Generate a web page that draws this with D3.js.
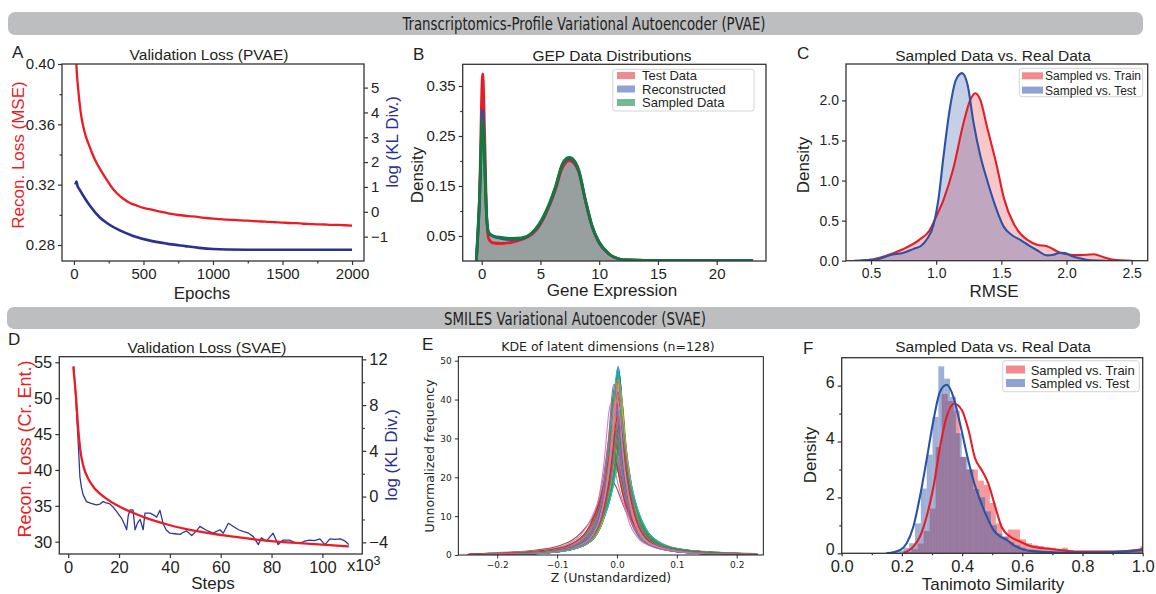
<!DOCTYPE html>
<html>
<head>
<meta charset="utf-8" />
<script src="https://d3js.org/d3.v7.min.js"></script>
<style>
    body { margin: 0; background: #fff; }
    svg { font-family: "Liberation Sans", Arial, sans-serif; }
    .frame { fill: none; stroke: #333; stroke-width: 1.3px; }
    .axis path { display: none; }
    .axis line { stroke: #333; stroke-width: 1.2px; }
    .axis text { fill: #231f20; font-family: "Liberation Sans", Arial, sans-serif; }
    .mpl line { stroke: #000; stroke-width: 0.8px; }
    .mpl text { font-family: "DejaVu Sans", sans-serif; }
</style>
</head>
<body>
<svg id="fig" width="1156" height="594"></svg>
<script>
// ---------------- data ----------------
// A: PVAE validation loss
var aReconEpoch = [12,20,30,43,55,67,85,103,130,163,200,235,270,307,350,403,450,499,550,600,650,700,750,800,850,900,950,1000,1050,1100,1150,1200,1250,1300,1350,1400,1450,1500,1550,1600,1650,1700,1750,1800,1850,1900,1950,2000];
var aReconLoss = [0.410,0.395,0.384,0.372,0.364,0.3585,0.352,0.3476,0.341,0.3343,0.3285,0.3233,0.3185,0.3145,0.3110,0.3079,0.3062,0.3046,0.3036,0.3025,0.3016,0.3006,0.2999,0.2994,0.2990,0.2985,0.2979,0.2975,0.2972,0.2968,0.2966,0.2963,0.2961,0.2958,0.2956,0.2953,0.2951,0.2949,0.2946,0.2945,0.2941,0.2939,0.2937,0.2936,0.2933,0.2933,0.2931,0.2929];
var aKlEpoch = [10,18,25,40,67,115,186,250,330,426,540,666,800,900,1000,1100,1300,1600,2000];
var aKl = [1.10,1.22,1.05,0.90,0.645,0.24,-0.23,-0.50,-0.75,-0.97,-1.15,-1.28,-1.38,-1.45,-1.50,-1.52,-1.53,-1.53,-1.53];

// B: GEP distributions
var bGrid = [-0.46,-0.2,0.083,0.25,0.42,0.6,1.0,1.7,2.5,3.4,4.2,4.85,5.7,6.27,6.84,7.2,7.46,7.8,8.26,8.83,9.4,9.97,10.8,11.7,12.5,15,18,23.1];
var bTest = [0,0.12,0.374,0.25,0.09,0.044,0.036,0.035,0.037,0.043,0.052,0.068,0.107,0.142,0.185,0.198,0.201,0.197,0.178,0.12,0.068,0.037,0.014,0.004,0.002,0.001,0.0005,0.0003];
var bRecon = [0,0.11,0.302,0.2,0.085,0.055,0.049,0.045,0.043,0.045,0.054,0.071,0.11,0.146,0.191,0.203,0.205,0.201,0.18,0.121,0.069,0.038,0.015,0.004,0.002,0.001,0.001,0.0005];
var bSampled = [0,0.12,0.282,0.19,0.089,0.057,0.05,0.047,0.045,0.046,0.055,0.073,0.112,0.148,0.193,0.205,0.207,0.203,0.182,0.122,0.07,0.039,0.015,0.004,0.002,0.001,0.001,0.0005];
var bLabels = ["Test Data", "Reconstructed", "Sampled Data"];

// C: RMSE densities
var cTrainX = [0.42,0.49,0.61,0.74,0.87,0.95,1.0,1.056,1.13,1.21,1.26,1.3,1.34,1.39,1.467,1.518,1.595,1.65,1.7,1.774,1.851,1.95,2.03,2.1,2.21,2.29,2.36,2.5];
var cTrainY = [0,0.01,0.06,0.14,0.26,0.38,0.55,0.76,1.14,1.72,2.0,2.09,2.0,1.67,1.17,0.79,0.46,0.33,0.26,0.2,0.18,0.1,0.075,0.07,0.08,0.04,0.01,0];
var cTestX = [0.37,0.5,0.55,0.65,0.75,0.83,0.88,0.93,0.98,1.02,1.056,1.108,1.15,1.198,1.24,1.287,1.34,1.39,1.45,1.518,1.58,1.646,1.71,1.774,1.851,1.9,1.953,1.99,2.03,2.1,2.185,2.3];
var cTestY = [0,0.01,0.02,0.07,0.1,0.15,0.18,0.27,0.45,0.8,1.3,1.93,2.25,2.34,2.2,1.72,1.3,1.01,0.7,0.425,0.32,0.26,0.19,0.13,0.066,0.075,0.1,0.095,0.066,0.03,0.004,0];
var cLabels = ["Sampled vs. Train", "Sampled vs. Test"];

// D: SVAE validation loss (steps in thousands)
var dReconStep = [2,3,4,5,6,8,10,12.5,15,19,25,30,39,50,65,78,91,110.4];
var dReconLoss = [54.4,50.5,45.5,42.2,40.5,38.7,37.6,36.7,36.0,35.1,34.1,33.4,32.4,31.5,30.7,30.15,29.8,29.35];
var dKlStep = [2.2,3,4,4.6,5.2,5.9,7.2,9,11.1,12.5,13.7,15,16.4,18,19,21,22.3,23,23.6,24.3,25.5,26.3,27.3,28.3,29.5,30.2,32.2,33.5,34.8,36.1,37.4,38.5,40,42,44,45.5,46.6,48.6,50.5,51.8,54,57,59.7,61,63,65,67,69,71,72.8,74.8,76,78,80.6,82.6,84.5,87,89,91,93,95,97,99,101,103,105,107,109,110.4];
var dKl = [11.4,8.5,4.5,1.75,0.8,0.15,-0.44,-0.6,-0.73,-0.65,-0.44,-0.55,-0.64,-1.0,-1.3,-1.9,-2.5,-2.9,-1.7,-1.16,-1.16,-2.9,-2.3,-2.0,-2.9,-1.45,-1.45,-1.6,-1.8,-1.2,-2.4,-2.9,-3.2,-3.25,-3.3,-3.1,-3.0,-3.4,-3.0,-2.6,-2.9,-3.2,-2.9,-3.2,-2.33,-2.62,-2.9,-3.06,-3.2,-3.5,-4.2,-3.6,-3.9,-3.2,-4.2,-3.8,-3.8,-4.0,-4.1,-3.9,-3.8,-3.85,-3.7,-4.2,-3.7,-3.75,-3.7,-3.9,-4.2];

// E: KDE of 128 latent dimensions -- read peak height and centre of each, plus one shared profile shape
var ePeak = [48.5,42,36,30,44,27,39,33,47,25,
    40,35,29,45,31,38,22,41,34,28,
    46,37,32,26,43,30,39,24,36,41,
    33,28,44,35,30,19,38,27,42,31,
    48,34,29,37,25,40,32,45,28,36,
    33,41,26,39,30,43,35,23,38,31,
    47,29,36,42,27,34,40,32,44,30,
    37,25,41,33,28,39,35,46,31,38,
    27,43,34,30,40,36,24,42,32,37,
    29,45,33,39,26,41,35,31,44,28,
    38,34,47,30,36,42,27,33,40,29,
    37,45,32,26,39,35,43,31,38,48,
    34,41,29,36,44,33,40,37];
var eShift = [0.002,-0.004,0.006,-0.008,0.001,0.004,-0.002,0.008,0.003,-0.006,
    -0.001,0.005,-0.009,0.002,0.007,-0.003,0.004,-0.005,0.000,0.009,
    0.003,-0.007,0.001,0.006,-0.002,0.004,-0.010,0.002,0.005,-0.004,
    0.000,0.007,-0.003,0.003,-0.006,-0.010,0.001,0.008,-0.001,0.004,
    0.002,-0.005,0.006,-0.002,0.003,0.000,-0.008,0.004,0.007,-0.003,
    0.001,0.005,-0.006,0.002,0.009,-0.001,0.003,-0.004,0.006,0.000,
    0.003,-0.007,0.002,0.005,-0.002,0.004,0.001,-0.009,0.003,0.007,
    -0.003,0.002,0.006,-0.005,0.001,0.004,-0.001,0.002,0.008,-0.004,
    0.005,0.000,-0.006,0.003,0.001,0.006,-0.011,0.002,0.004,-0.002,
    0.007,0.001,-0.004,0.003,0.005,-0.001,0.002,-0.007,0.004,0.009,
    0.000,0.003,0.001,-0.005,0.006,0.002,-0.003,0.004,0.000,0.007,
    -0.002,0.003,0.005,-0.008,0.001,0.004,0.002,-0.004,0.006,0.001,
    0.003,-0.001,0.007,0.002,-0.005,0.004,0.000,0.005];
var eTplU = [0,0.25,0.5,0.75,1,1.5,2,2.5,3,4,5,6,8,10,14,20];
var eTplV = [1,0.93,0.76,0.6,0.48,0.31,0.2,0.14,0.1,0.062,0.042,0.03,0.016,0.009,0.004,0.001];
var eArea = 0.62; // peak * half-width, roughly constant across dimensions

// F: Tanimoto similarity
var fTrainBinStart = 0.2123, fTrainBinW = 0.02;
var fTrainHist = [0.05,0.15,0.35,0.8,1.6,3.8,5.7,5.45,5.1,3.45,3.0,3.0,2.6,2.45,1.8,1.07,0.6,0.85,0.85,0.5,0.36,0.3,0.26,0.22,0.2,0.15,0.2,0.1,0.06,0.05,0.05,0.04,0.04,0.05,0.05,0.04,0.05,0.08,0.15,0.26];
var fTestBinStart = 0.1465, fTestBinW = 0.0194;
var fTestHist = [0.05,0.05,0.1,0.2,0.36,1.07,2.32,3.53,4.88,6.69,6.25,5.6,4.3,3.45,3.0,2.3,2.0,1.5,1.0,0.7,0.6,0.4,0.3,0.2,0.12,0.1,0.08,0.06,0.05,0.05,0.04,0.04,0.03,0.03,0.04,0.04,0.05,0.05,0.06,0.08,0.1,0.1,0.1,0.12];
var fTrainKdeX = [0.205,0.238,0.26,0.282,0.305,0.327,0.349,0.374,0.399,0.421,0.443,0.465,0.487,0.51,0.531,0.559,0.592,0.626,0.67,0.725,0.78,0.87,0.936,1.0];
var fTrainKdeY = [0.02,0.24,0.6,1.31,2.39,3.82,4.9,5.35,5.13,4.42,3.4,2.98,2.5,1.67,0.95,0.6,0.42,0.26,0.18,0.12,0.06,0.06,0.07,0.15];
var fTestKdeX = [0.15,0.194,0.216,0.238,0.26,0.282,0.305,0.327,0.349,0.371,0.393,0.415,0.437,0.46,0.482,0.504,0.526,0.548,0.57,0.603,0.648,0.7,0.76,0.87,0.95,1.0];
var fTestKdeY = [0,0.12,0.36,0.95,2.03,3.34,4.77,5.79,6.03,5.6,4.65,3.58,2.63,1.9,1.31,0.84,0.6,0.48,0.3,0.14,0.07,0.04,0.03,0.04,0.07,0.12];

// ---------------- drawing ----------------
var svg = d3.select("#fig");
var defs = svg.append("defs");
var RED = "#ed1c24", NAVY = "#2b3190", SRED = "#e41e26", SBLUE = "#2a52a5", SGREEN = "#127a3a";
var MPL = "'DejaVu Sans', sans-serif";
var NARROW = "'Liberation Sans Narrow', 'DejaVu Sans Condensed', Arial, sans-serif";

function txt(x, y, s, size, opt) {
    opt = opt || {};
    var t = svg.append("text").attr("x", x).attr("y", y).text(s)
        .style("font-size", size + "px")
        .attr("fill", opt.fill || "#231f20")
        .attr("text-anchor", opt.anchor || "middle");
    if (opt.fam) t.style("font-family", opt.fam);
    return t;
}
function vtxt(cx, cy, s, size, fill, fam) {
    var t = svg.append("text").attr("transform", "translate(" + cx + "," + cy + ") rotate(-90)")
        .attr("text-anchor", "middle").attr("dy", "0.35em").text(s)
        .style("font-size", size + "px").attr("fill", fill || "#231f20");
    if (fam) t.style("font-family", fam);
    return t;
}
function drawAxis(orient, scale, at, ticks, fmt, size, len, cls) {
    var gen = orient === "bottom" ? d3.axisBottom : (orient === "left" ? d3.axisLeft : d3.axisRight);
    var a = gen(scale).tickValues(ticks).tickSize(len).tickPadding(3)
        .tickFormat(fmt ? d3.format(fmt) : function() { return ""; });
    var g = svg.append("g").attr("class", "axis " + (cls || ""))
        .attr("transform", orient === "bottom" ? "translate(0," + at + ")" : "translate(" + at + ",0)")
        .call(a);
    g.selectAll("text").style("font-size", size + "px");
    return g;
}
function frame(b, cls) {
    svg.append("rect").attr("class", "frame").attr("x", b.l).attr("y", b.t)
        .attr("width", b.r - b.l).attr("height", b.b - b.t)
        .style("stroke", cls === "mpl" ? "#000" : null).style("stroke-width", cls === "mpl" ? "0.9px" : null);
}
function clip(id, b) {
    defs.append("clipPath").attr("id", id).append("rect")
        .attr("x", b.l).attr("y", b.t).attr("width", b.r - b.l).attr("height", b.b - b.t);
    return svg.append("g").attr("clip-path", "url(#" + id + ")");
}
function legend(bx, items, size) {
    svg.append("rect").attr("x", bx.x).attr("y", bx.y).attr("width", bx.w).attr("height", bx.h)
        .attr("rx", 2.5).attr("fill", "#fff").attr("fill-opacity", 0.85)
        .attr("stroke", "#d4d4d4").attr("stroke-width", 1);
    items.forEach(function(it, i) {
        var base = bx.base0 + i * bx.gap;
        svg.append("rect").attr("x", bx.sx).attr("y", base - bx.sh - 1)
            .attr("width", bx.sw).attr("height", bx.sh).attr("fill", it.color);
        txt(bx.tx, base, it.label, size, {anchor: "start"});
    });
}
function pairs(xs, ys) { return d3.zip(xs, ys); }

// header bars
svg.append("rect").attr("x", 8).attr("y", 12).attr("width", 1135).attr("height", 23).attr("rx", 7).attr("fill", "#bcbec0");
svg.append("rect").attr("x", 7).attr("y", 307).attr("width", 1133).attr("height", 22).attr("rx", 7).attr("fill", "#bcbec0");
txt(584, 30, "Transcriptomics-Profile Variational Autoencoder (PVAE)", 18, {fam: NARROW})
    .attr("textLength", 363).attr("lengthAdjust", "spacingAndGlyphs");
txt(575, 324.5, "SMILES Variational Autoencoder (SVAE)", 18, {fam: NARROW})
    .attr("textLength", 262).attr("lengthAdjust", "spacingAndGlyphs");

// ---------- A ----------
(function() {
    var b = {l: 62, r: 364, t: 64, b: 261};
    var x = d3.scaleLinear().domain([-86, 2086]).range([b.l, b.r]);
    var yl = d3.scaleLinear().domain([0.2694, 0.40]).range([b.b, b.t]);
    var yr = d3.scaleLinear().domain([-1.98, 5.95]).range([b.b, b.t]);
    var g = clip("clipA", b);
    g.append("path").datum(pairs(aReconEpoch, aReconLoss))
        .attr("d", d3.line().x(function(d) { return x(d[0]); }).y(function(d) { return yl(d[1]); }).curve(d3.curveMonotoneX))
        .attr("fill", "none").attr("stroke", RED).attr("stroke-width", 2.3);
    g.append("path").datum(pairs(aKlEpoch, aKl))
        .attr("d", d3.line().x(function(d) { return x(d[0]); }).y(function(d) { return yr(d[1]); }).curve(d3.curveMonotoneX))
        .attr("fill", "none").attr("stroke", NAVY).attr("stroke-width", 2.6);
    frame(b);
    drawAxis("left", yl, b.l, [0.28, 0.32, 0.36, 0.40], ".2f", 15, 4);
    drawAxis("left", yl, b.l, [0.30, 0.34, 0.38], null, 15, 2.5);
    drawAxis("right", yr, b.r, [-1, 0, 1, 2, 3, 4, 5], "d", 15, 4);
    drawAxis("bottom", x, b.b, [0, 500, 1000, 1500, 2000], "d", 15, 4);
    drawAxis("bottom", x, b.b, [250, 750, 1250, 1750], null, 15, 2.5);
    txt(12, 58, "A", 17, {anchor: "start"});
    txt(209, 60, "Validation Loss (PVAE)", 15.5);
    txt(202, 299, "Epochs", 17);
    vtxt(18, 155, "Recon. Loss (MSE)", 17, RED);
    vtxt(392, 142, "log (KL Div.)", 17, NAVY);
})();

// ---------- B ----------
(function() {
    var b = {l: 462.7, r: 766, t: 64.3, b: 261};
    var x = d3.scaleLinear().domain([-1.62, 24.2]).range([b.l, b.r]);
    var y = d3.scaleLinear().domain([0, 0.3934]).range([b.b, b.t]);
    var g = clip("clipB", b);
    var series = [{v: bTest, c: SRED}, {v: bRecon, c: SBLUE}, {v: bSampled, c: SGREEN}];
    var area = d3.area().x(function(d) { return x(d[0]); }).y0(y(0)).y1(function(d) { return y(d[1]); }).curve(d3.curveMonotoneX);
    var line = d3.line().x(function(d) { return x(d[0]); }).y(function(d) { return y(d[1]); }).curve(d3.curveMonotoneX);
    series.forEach(function(s) {
        g.append("path").datum(pairs(bGrid, s.v)).attr("d", area).attr("fill", "#8e9795").attr("fill-opacity", 0.55);
    });
    series.forEach(function(s) {
        g.append("path").datum(pairs(bGrid, s.v)).attr("d", line).attr("fill", "none")
            .attr("stroke", s.c).attr("stroke-width", 2.8).attr("stroke-linejoin", "round");
    });
    frame(b);
    drawAxis("left", y, b.l, [0.05, 0.15, 0.25, 0.35], ".2f", 15, 4);
    drawAxis("left", y, b.l, [0.10, 0.20, 0.30], null, 15, 2.5);
    drawAxis("bottom", x, b.b, [0, 5, 10, 15, 20], "d", 15, 4);
    legend({x: 612.7, y: 69.3, w: 141.3, h: 41.7, sx: 617, sw: 18, sh: 7, tx: 642, base0: 80, gap: 13.5},
        [{label: bLabels[0], color: "#f28a90"}, {label: bLabels[1], color: "#8ea3d3"}, {label: bLabels[2], color: "#72b996"}], 13);
    txt(413, 60, "B", 17, {anchor: "start"});
    txt(612, 61, "GEP Data Distributions", 15.5);
    txt(612, 296, "Gene Expression", 17);
    vtxt(417, 175, "Density", 17);
})();

// ---------- C ----------
(function() {
    var b = {l: 846, r: 1147.7, t: 64, b: 260.7};
    var x = d3.scaleLinear().domain([0.308, 2.623]).range([b.l, b.r]);
    var y = d3.scaleLinear().domain([0, 2.454]).range([b.b, b.t]);
    var g = clip("clipC", b);
    var area = d3.area().x(function(d) { return x(d[0]); }).y0(y(0)).y1(function(d) { return y(d[1]); }).curve(d3.curveMonotoneX);
    var line = d3.line().x(function(d) { return x(d[0]); }).y(function(d) { return y(d[1]); }).curve(d3.curveMonotoneX);
    var tr = pairs(cTrainX, cTrainY), te = pairs(cTestX, cTestY);
    g.append("path").datum(tr).attr("d", area).attr("fill", SRED).attr("fill-opacity", 0.25);
    g.append("path").datum(te).attr("d", area).attr("fill", SBLUE).attr("fill-opacity", 0.27);
    g.append("path").datum(tr).attr("d", line).attr("fill", "none").attr("stroke", SRED).attr("stroke-width", 2.1);
    g.append("path").datum(te).attr("d", line).attr("fill", "none").attr("stroke", SBLUE).attr("stroke-width", 2.1);
    frame(b);
    drawAxis("left", y, b.l, [0, 0.5, 1.0, 1.5, 2.0], ".1f", 14, 4);
    drawAxis("bottom", x, b.b, [0.5, 1.0, 1.5, 2.0, 2.5], ".1f", 14, 4);
    legend({x: 1019.3, y: 68.3, w: 123.4, h: 28.4, sx: 1022, sw: 21, sh: 7, tx: 1045, base0: 80.3, gap: 14.3},
        [{label: cLabels[0], color: "#f28a90"}, {label: cLabels[1], color: "#8ea3d3"}], 12);
    txt(797, 59, "C", 17, {anchor: "start"});
    txt(993, 60.5, "Sampled Data vs. Real Data", 15.5);
    txt(994, 297, "RMSE", 17);
    vtxt(803, 165, "Density", 17);
})();

// ---------- D ----------
(function() {
    var b = {l: 59.3, r: 362.3, t: 356.7, b: 554};
    var x = d3.scaleLinear().domain([-3.5, 115.7]).range([b.l, b.r]);
    var yl = d3.scaleLinear().domain([28.29, 55.78]).range([b.b, b.t]);
    var yr = d3.scaleLinear().domain([-5.02, 12.23]).range([b.b, b.t]);
    var g = clip("clipD", b);
    g.append("path").datum(pairs(dKlStep, dKl))
        .attr("d", d3.line().x(function(d) { return x(d[0]); }).y(function(d) { return yr(d[1]); }))
        .attr("fill", "none").attr("stroke", "#2b3a9a").attr("stroke-width", 1.3).attr("stroke-linejoin", "round");
    g.append("path").datum(pairs(dReconStep, dReconLoss))
        .attr("d", d3.line().x(function(d) { return x(d[0]); }).y(function(d) { return yl(d[1]); }).curve(d3.curveMonotoneX))
        .attr("fill", "none").attr("stroke", RED).attr("stroke-width", 2.3);
    frame(b);
    drawAxis("left", yl, b.l, [30, 35, 40, 45, 50, 55], "d", 16.5, 4);
    drawAxis("right", yr, b.r, [-4, 0, 4, 8, 12], "d", 16.5, 4);
    drawAxis("right", yr, b.r, [-2, 2, 6, 10], null, 16.5, 2.5);
    drawAxis("bottom", x, b.b, [0, 20, 40, 60, 80, 100], "d", 16.5, 4);
    var sc = svg.append("text").attr("x", 347).attr("y", 571).style("font-size", "16.5px").attr("fill", "#231f20");
    sc.append("tspan").text("x10");
    sc.append("tspan").attr("dy", -6).style("font-size", "12.5px").text("3");
    txt(8, 345, "D", 17, {anchor: "start"});
    txt(207, 353, "Validation Loss (SVAE)", 15.5);
    txt(213, 589, "Steps", 17);
    vtxt(25, 449, "Recon. Loss (Cr. Ent.)", 18, RED);
    vtxt(391, 455, "log (KL Div.)", 17, NAVY);
})();

// ---------- E ----------
(function() {
    var b = {l: 458.3, r: 763.3, t: 356.7, b: 555};
    var x = d3.scaleLinear().domain([-0.265, 0.2444]).range([b.l, b.r]);
    var y = d3.scaleLinear().domain([0, 51.03]).range([b.b, b.t]);
    var g = clip("clipE", b);
    var line = d3.line().x(function(d) { return x(d[0]); }).y(function(d) { return y(d[1]); }).curve(d3.curveMonotoneX);
    ePeak.forEach(function(pk, i) {
        var w = eArea / pk, c = eShift[i];
        var pts = [];
        for (var k = eTplU.length - 1; k > 0; k--) pts.push([c - eTplU[k] * w, pk * eTplV[k]]);
        for (k = 0; k < eTplU.length; k++) pts.push([c + eTplU[k] * w, pk * eTplV[k]]);
        pts = pts.filter(function(p) { return p[0] > -0.25 && p[0] < 0.235; });
        pts.unshift([-0.25, 0]);
        pts.push([0.235, 0]);
        g.append("path").datum(pts).attr("d", line).attr("fill", "none")
            .attr("stroke", d3.schemeCategory10[i % 10]).attr("stroke-width", 1.1);
    });
    frame(b, "mpl");
    drawAxis("left", y, b.l, [0, 10, 20, 30, 40, 50], "d", 9, 3.5, "mpl");
    drawAxis("bottom", x, b.b, [-0.2, -0.1, 0, 0.1, 0.2], ".1f", 9, 3.5, "mpl");
    txt(422, 350, "E", 17, {anchor: "start"});
    txt(608, 351, "KDE of latent dimensions (n=128)", 12.5, {fam: MPL});
    txt(611, 582, "Z (Unstandardized)", 12.5, {fam: MPL});
    vtxt(430, 456, "Unnormalized frequency", 12.5, "#231f20", MPL);
})();

// ---------- F ----------
(function() {
    var b = {l: 841.7, r: 1142.7, t: 357.7, b: 553.3};
    var x = d3.scaleLinear().domain([0, 1]).range([b.l, b.r]);
    var y = d3.scaleLinear().domain([0, 7]).range([b.b, b.t]);
    var g = clip("clipF", b);
    g.selectAll("rect.trainbar").data(fTrainHist).enter().append("rect").attr("class", "trainbar")
        .attr("x", function(d, i) { return x(fTrainBinStart + i * fTrainBinW); })
        .attr("width", x(fTrainBinW) - x(0))
        .attr("y", function(d) { return y(d); })
        .attr("height", function(d) { return y(0) - y(d); })
        .attr("fill", SRED).attr("fill-opacity", 0.45);
    g.selectAll("rect.testbar").data(fTestHist).enter().append("rect").attr("class", "testbar")
        .attr("x", function(d, i) { return x(fTestBinStart + i * fTestBinW); })
        .attr("width", x(fTestBinW) - x(0))
        .attr("y", function(d) { return y(d); })
        .attr("height", function(d) { return y(0) - y(d); })
        .attr("fill", SBLUE).attr("fill-opacity", 0.45);
    var line = d3.line().x(function(d) { return x(d[0]); }).y(function(d) { return y(d[1]); }).curve(d3.curveMonotoneX);
    g.append("path").datum(pairs(fTrainKdeX, fTrainKdeY)).attr("d", line).attr("fill", "none").attr("stroke", SRED).attr("stroke-width", 2.1);
    g.append("path").datum(pairs(fTestKdeX, fTestKdeY)).attr("d", line).attr("fill", "none").attr("stroke", SBLUE).attr("stroke-width", 2.1);
    frame(b);
    drawAxis("left", y, b.l, [0, 2, 4, 6], "d", 16, 4).selectAll("text").attr("dy", "0.1em");
    drawAxis("left", y, b.l, [1, 3, 5], null, 16, 2.5);
    drawAxis("bottom", x, b.b, [0, 0.2, 0.4, 0.6, 0.8, 1.0], ".1f", 16.5, 3).selectAll("text").attr("y", 6.5);
    drawAxis("bottom", x, b.b, [0.1, 0.3, 0.5, 0.7, 0.9], null, 16, 2);
    legend({x: 1002.7, y: 360.7, w: 136.6, h: 31, sx: 1006, sw: 19, sh: 8, tx: 1030.7, base0: 374.5, gap: 13.5},
        [{label: cLabels[0], color: "#f28a90"}, {label: cLabels[1], color: "#8ea3d3"}], 13);
    txt(803, 354, "F", 17, {anchor: "start"});
    txt(993, 352, "Sampled Data vs. Real Data", 15.5);
    txt(993, 589.5, "Tanimoto Similarity", 17);
    vtxt(810, 455, "Density", 17);
})();
</script>
</body>
</html>
